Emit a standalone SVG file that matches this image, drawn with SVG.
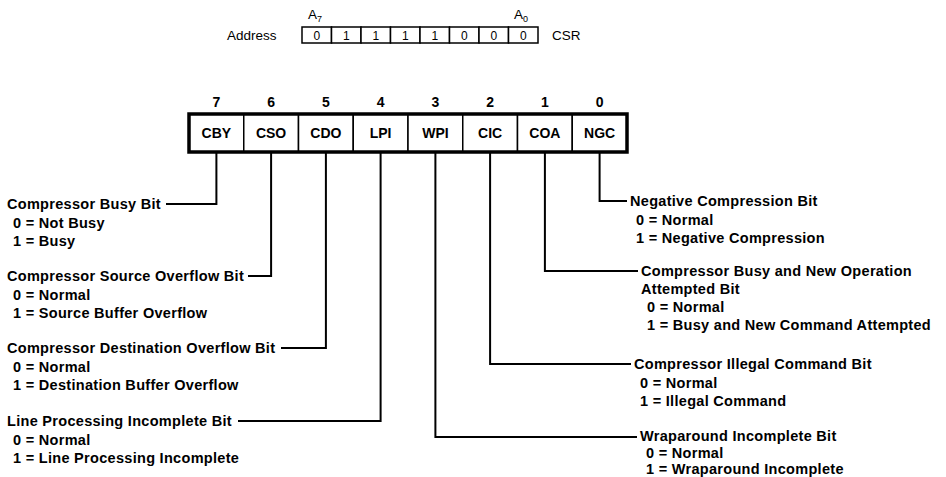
<svg xmlns="http://www.w3.org/2000/svg" width="946" height="477" viewBox="0 0 946 477">
<style>
.t{font-family:"Liberation Sans",Arial,Helvetica,sans-serif;font-weight:bold;font-size:14.5px;letter-spacing:0.3px;fill:#000}
.r{font-family:"Liberation Sans",Arial,Helvetica,sans-serif;font-weight:bold;font-size:14px;fill:#000;text-anchor:middle}
.a{font-family:"Liberation Sans",Arial,Helvetica,sans-serif;font-size:13.5px;fill:#000}
.d{font-family:"Liberation Sans",Arial,Helvetica,sans-serif;font-size:12px;fill:#000;text-anchor:middle}
.ln{fill:none;stroke:#000;stroke-width:2}
.cell{fill:#fff;stroke:#000;stroke-width:1.5}
.frame{fill:none;stroke:#000;stroke-width:3.5}
</style>
<rect width="946" height="477" fill="#fff"/>

<g id="address">
  <text class="a" x="308" y="19">A<tspan font-size="9" dy="3">7</tspan></text>
  <text class="a" x="514" y="19">A<tspan font-size="9" dy="3">0</tspan></text>
  <text class="a" x="227" y="40">Address</text>
  <rect class="cell" x="302" y="27" width="29.5" height="16"/>
  <rect class="cell" x="331.5" y="27" width="29.5" height="16"/>
  <rect class="cell" x="361" y="27" width="29.5" height="16"/>
  <rect class="cell" x="390.5" y="27" width="29.5" height="16"/>
  <rect class="cell" x="420" y="27" width="29.5" height="16"/>
  <rect class="cell" x="449.5" y="27" width="29.5" height="16"/>
  <rect class="cell" x="479" y="27" width="29.5" height="16"/>
  <rect class="cell" x="508.5" y="27" width="29.5" height="16"/>
  <text class="d" x="316.75" y="39.5">0</text>
  <text class="d" x="346.25" y="39.5">1</text>
  <text class="d" x="375.75" y="39.5">1</text>
  <text class="d" x="405.25" y="39.5">1</text>
  <text class="d" x="434.75" y="39.5">1</text>
  <text class="d" x="464.25" y="39.5">0</text>
  <text class="d" x="493.75" y="39.5">0</text>
  <text class="d" x="523.25" y="39.5">0</text>
  <text class="a" x="552" y="40">CSR</text>
</g>

<g id="register">
  <rect class="cell" x="189" y="114" width="54.75" height="38"/>
  <rect class="cell" x="243.75" y="114" width="54.75" height="38"/>
  <rect class="cell" x="298.5" y="114" width="54.75" height="38"/>
  <rect class="cell" x="353.25" y="114" width="54.75" height="38"/>
  <rect class="cell" x="408" y="114" width="54.75" height="38"/>
  <rect class="cell" x="462.75" y="114" width="54.75" height="38"/>
  <rect class="cell" x="517.5" y="114" width="54.75" height="38"/>
  <rect class="cell" x="572.25" y="114" width="54.75" height="38"/>
  <rect class="frame" x="189" y="114" width="438" height="38"/>
  <text class="r" x="216.4" y="107">7</text>
  <text class="r" x="271.1" y="107">6</text>
  <text class="r" x="325.9" y="107">5</text>
  <text class="r" x="380.6" y="107">4</text>
  <text class="r" x="435.4" y="107">3</text>
  <text class="r" x="490.1" y="107">2</text>
  <text class="r" x="544.9" y="107">1</text>
  <text class="r" x="599.6" y="107">0</text>
  <text class="r" x="216.4" y="138">CBY</text>
  <text class="r" x="271.1" y="138">CSO</text>
  <text class="r" x="325.9" y="138">CDO</text>
  <text class="r" x="380.6" y="138">LPI</text>
  <text class="r" x="435.4" y="138">WPI</text>
  <text class="r" x="490.1" y="138">CIC</text>
  <text class="r" x="544.9" y="138">COA</text>
  <text class="r" x="599.6" y="138">NGC</text>
</g>

<g id="connectors">
  <path class="ln" d="M216.4,152 V204 H166"/>
  <path class="ln" d="M271.1,152 V276 H248"/>
  <path class="ln" d="M325.9,152 V348 H281"/>
  <path class="ln" d="M380.6,152 V421 H238"/>
  <path class="ln" d="M435.4,152 V437 H637"/>
  <path class="ln" d="M490.1,152 V364 H631"/>
  <path class="ln" d="M544.9,152 V271 H638"/>
  <path class="ln" d="M599.6,152 V201 H627"/>
</g>

<g id="cby">
  <text class="t" x="7" y="209">Compressor Busy Bit</text>
  <text class="t" x="13" y="228">0 = Not Busy</text>
  <text class="t" x="13" y="246">1 = Busy</text>
</g>
<g id="cso">
  <text class="t" x="7" y="281">Compressor Source Overflow Bit</text>
  <text class="t" x="13" y="300">0 = Normal</text>
  <text class="t" x="13" y="318">1 = Source Buffer Overflow</text>
</g>
<g id="cdo">
  <text class="t" x="7" y="353">Compressor Destination Overflow Bit</text>
  <text class="t" x="13" y="372">0 = Normal</text>
  <text class="t" x="13" y="390">1 = Destination Buffer Overflow</text>
</g>
<g id="lpi">
  <text class="t" x="7" y="426">Line Processing Incomplete Bit</text>
  <text class="t" x="13" y="445">0 = Normal</text>
  <text class="t" x="13" y="463">1 = Line Processing Incomplete</text>
</g>
<g id="ngc">
  <text class="t" x="630" y="206">Negative Compression Bit</text>
  <text class="t" x="636" y="225">0 = Normal</text>
  <text class="t" x="636" y="243">1 = Negative Compression</text>
</g>
<g id="coa">
  <text class="t" x="641" y="276">Compressor Busy and New Operation</text>
  <text class="t" x="641" y="294">Attempted Bit</text>
  <text class="t" x="647" y="312">0 = Normal</text>
  <text class="t" x="647" y="330">1 = Busy and New Command Attempted</text>
</g>
<g id="cic">
  <text class="t" x="634" y="369">Compressor Illegal Command Bit</text>
  <text class="t" x="640" y="388">0 = Normal</text>
  <text class="t" x="640" y="406">1 = Illegal Command</text>
</g>
<g id="wpi">
  <text class="t" x="640" y="441">Wraparound Incomplete Bit</text>
  <text class="t" x="646" y="458">0 = Normal</text>
  <text class="t" x="646" y="474">1 = Wraparound Incomplete</text>
</g>
</svg>
